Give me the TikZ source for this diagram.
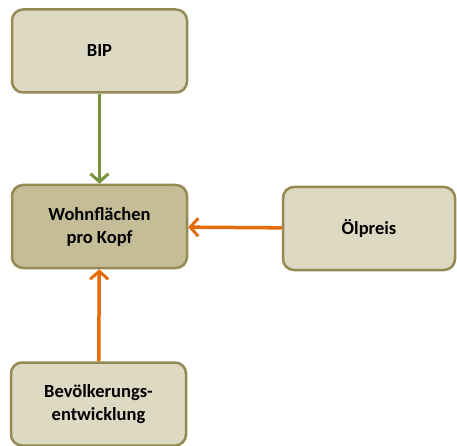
\documentclass[tikz,border=0pt]{standalone}
\usepackage{fontspec}
\setmainfont{Carlito}
\usetikzlibrary{arrows.meta}
\definecolor{boxfill}{HTML}{DDD9C3}
\definecolor{midfill}{HTML}{C4BD97}
\definecolor{boxline}{HTML}{948A54}
\definecolor{greenarrow}{HTML}{77933C}
\definecolor{orangearrow}{HTML}{E46C0A}
\tikzset{
  factor/.style={draw=boxline, line width=2.5pt, fill=boxfill, rounded corners=11pt,
    minimum width=175pt, minimum height=83pt, align=center, font=\bfseries\fontsize{18.5}{23}\selectfont},
  link/.style={line width=3.5pt, -{Straight Barb[length=8pt,width=18pt,line width=3pt]}}
}
\begin{document}
\begin{tikzpicture}[x=1pt,y=-1pt]
\useasboundingbox (0,0) rectangle (457,446);
\node[factor] (bip) at (99.5,51) {BIP};
\node[factor, fill=midfill] (wohn) at (99.5,226.5) {Wohnflächen\\pro Kopf};
\node[factor, minimum width=172pt] (oel) at (369,228.5) {Ölpreis};
\node[factor] (bev) at (98.5,404) {Bevölkerungs-\\entwicklung};
\draw[link, greenarrow] (bip) -- (wohn);
\draw[link, orangearrow] (oel) -- (wohn);
\draw[link, orangearrow] (bev) -- (wohn);
\end{tikzpicture}
\end{document}
